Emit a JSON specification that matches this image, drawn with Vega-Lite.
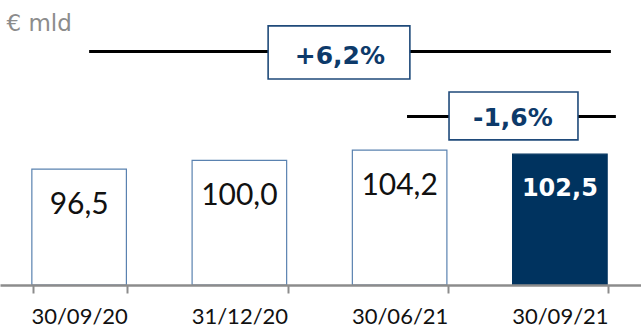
{
  "$schema": "https://vega.github.io/schema/vega-lite/v6.json",
  "width": 641,
  "height": 285,
  "autosize": "none",
  "padding": {"left": 0, "top": 0, "right": 0, "bottom": 44},
  "config": {
    "view": {"stroke": null},
    "locale": {"number": {"decimal": ",", "thousands": ".", "grouping": [3], "currency": ["€", ""], "minus": "-"}}
  },
  "datasets": {
    "stock": [
      {"date": "30/09/20", "value": 96.5, "period": "previous"},
      {"date": "31/12/20", "value": 100.0, "period": "previous"},
      {"date": "30/06/21", "value": 104.2, "period": "previous"},
      {"date": "30/09/21", "value": 102.5, "period": "current"}
    ],
    "changes": [
      {"id": "yoy", "from": "30/09/20", "to": "30/09/21", "change": 0.062},
      {"id": "qoq", "from": "30/06/21", "to": "30/09/21", "change": -0.016}
    ]
  },
  "encoding": {
    "x": {
      "field": "date",
      "type": "nominal",
      "sort": null,
      "scale": {"paddingInner": 0.41, "paddingOuter": 0.205},
      "axis": {
        "title": null,
        "zindex": 1,
        "domainColor": "#8c8c8c",
        "domainWidth": 2.5,
        "tickColor": "#8c8c8c",
        "tickWidth": 2,
        "tickSize": 8,
        "tickBand": "extent",
        "labelFont": "Lato",
        "labelFontSize": 22,
        "labelColor": "#111111",
        "labelPadding": 13,
        "labelOffset": -1,
        "labelAngle": 0
      }
    }
  },
  "layer": [
    {
      "data": {"name": "stock"},
      "mark": {"type": "bar", "strokeWidth": 1.2, "xOffset": -1},
      "encoding": {
        "y": {
          "field": "value",
          "type": "quantitative",
          "scale": {"domain": [49.5, 165], "zero": false, "nice": false},
          "axis": {
            "title": "€ mld",
            "labels": false,
            "ticks": false,
            "domain": false,
            "grid": false,
            "titleAngle": 0,
            "titleAlign": "left",
            "titleBaseline": "alphabetic",
            "titleX": 6,
            "titleY": 30,
            "titleFont": "DejaVu Sans",
            "titleFontSize": 23,
            "titleFontWeight": "normal",
            "titleColor": "#8c8c8c"
          }
        },
        "y2": {"datum": 49.5},
        "fill": {"field": "period", "type": "nominal", "scale": {"domain": ["previous", "current"], "range": ["#ffffff", "#00335f"]}, "legend": null},
        "stroke": {"field": "period", "type": "nominal", "scale": {"domain": ["previous", "current"], "range": ["#5a82b0", "#00335f"]}, "legend": null}
      }
    },
    {
      "data": {"name": "stock"},
      "transform": [{"filter": "datum.period === 'previous'"}],
      "mark": {"type": "text", "font": "Lato", "fontSize": 30, "color": "#111111", "baseline": "middle", "dy": 36, "dx": -1},
      "encoding": {
        "y": {"field": "value", "type": "quantitative"},
        "text": {"field": "value", "type": "quantitative", "format": ".1f"}
      }
    },
    {
      "data": {"name": "stock"},
      "transform": [{"filter": "datum.period === 'current'"}],
      "mark": {"type": "text", "font": "DejaVu Sans", "fontWeight": "bold", "fontSize": 24, "color": "#ffffff", "baseline": "middle", "dy": 35, "dx": -1},
      "encoding": {
        "y": {"field": "value", "type": "quantitative"},
        "text": {"field": "value", "type": "quantitative", "format": ".1f"}
      }
    },
    {
      "data": {"name": "changes"},
      "transform": [{"filter": "datum.id === 'yoy'"}],
      "layer": [
        {
          "mark": {"type": "rule", "color": "#000000", "strokeWidth": 3, "xOffset": 9, "x2Offset": 50},
          "encoding": {
            "x": {"field": "from", "type": "nominal"},
            "x2": {"field": "to"},
            "y": {"datum": 144.1}
          }
        },
        {
          "mark": {"type": "rect", "fill": "#ffffff", "stroke": "#1f4a7a", "strokeWidth": 1.6, "xOffset": 188, "x2Offset": -151},
          "encoding": {
            "x": {"field": "from", "type": "nominal"},
            "x2": {"field": "to"},
            "y": {"datum": 154.5},
            "y2": {"datum": 133.0}
          }
        },
        {
          "mark": {"type": "text", "font": "DejaVu Sans", "fontWeight": "bold", "fontSize": 25, "color": "#0d3a6a", "baseline": "middle", "dx": -221, "dy": 4},
          "encoding": {
            "x": {"field": "to", "type": "nominal"},
            "y": {"datum": 144.1},
            "text": {"field": "change", "type": "quantitative", "format": "+.1%"}
          }
        }
      ]
    },
    {
      "data": {"name": "changes"},
      "transform": [{"filter": "datum.id === 'qoq'"}],
      "layer": [
        {
          "mark": {"type": "rule", "color": "#000000", "strokeWidth": 3, "xOffset": 6.4, "x2Offset": 55},
          "encoding": {
            "x": {"field": "from", "type": "nominal"},
            "x2": {"field": "to"},
            "y": {"datum": 117.8}
          }
        },
        {
          "mark": {"type": "rect", "fill": "#ffffff", "stroke": "#1f4a7a", "strokeWidth": 1.6, "xOffset": 48.4, "x2Offset": 17.1},
          "encoding": {
            "x": {"field": "from", "type": "nominal"},
            "x2": {"field": "to"},
            "y": {"datum": 127.7},
            "y2": {"datum": 108.3}
          }
        },
        {
          "mark": {"type": "text", "font": "DejaVu Sans", "fontWeight": "bold", "fontSize": 25, "color": "#0d3a6a", "baseline": "middle", "dx": -48, "dy": 2},
          "encoding": {
            "x": {"field": "to", "type": "nominal"},
            "y": {"datum": 117.8},
            "text": {"field": "change", "type": "quantitative", "format": "+.1%"}
          }
        }
      ]
    }
  ]
}
